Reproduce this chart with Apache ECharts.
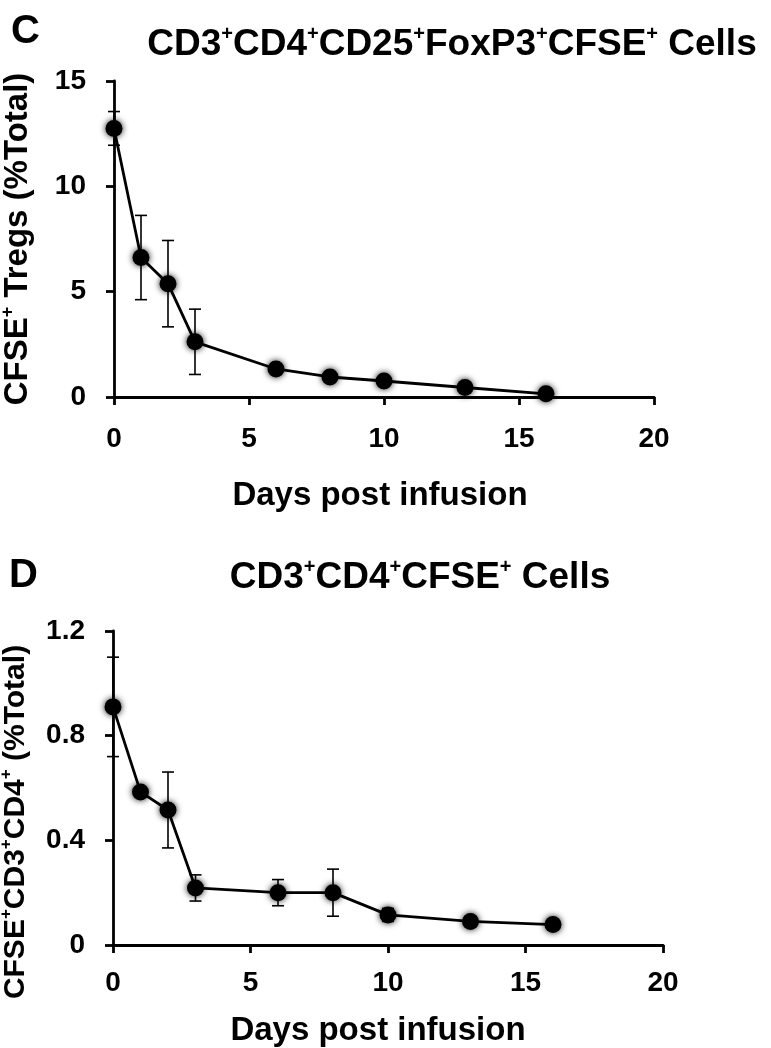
<!DOCTYPE html>
<html>
<head>
<meta charset="utf-8">
<script src="https://cdn.jsdelivr.net/npm/echarts@6/dist/echarts.min.js"></script>
<style>
html,body{margin:0;padding:0;background:#fff;}
#c{width:771px;height:1048px;}
</style>
</head>
<body>
<div id="c"></div>
<script>
// ---- data ----
var days = [0, 1, 2, 3, 6, 8, 10, 13, 16];
var tregMean = [12.75, 6.62, 5.38, 2.62, 1.33, 0.95, 0.76, 0.45, 0.15];
var tregErr  = [0.8, 2.0, 2.05, 1.55, 0.25, 0.2, 0.15, 0.15, 0.1];
var cd4Mean = [0.91, 0.585, 0.516, 0.218, 0.2, 0.2, 0.115, 0.09, 0.078];
var cd4Err  = [0.19, 0.0, 0.145, 0.05, 0.05, 0.09, 0.025, 0.012, 0.01];
var xTicks = [0, 5, 10, 15, 20];
var tregTicks = [0, 5, 10, 15];
var cd4Ticks = [0, 0.4, 0.8, 1.2];

var FONT = '"Liberation Sans", Arial, Helvetica, sans-serif';
var chart = echarts.init(document.getElementById('c'));

function pairs(xs, ys, es) {
  return xs.map(function (x, i) { return es ? [x, ys[i], es[i]] : [x, ys[i]]; });
}

function errRender(params, api) {
  var x = api.value(0), m = api.value(1), e = api.value(2);
  if (!e) return null;
  var t = api.coord([x, m + e]);
  var b = api.coord([x, m - e]);
  var w = 6;
  var st = { stroke: '#000', lineWidth: 1.6 };
  return {
    type: 'group',
    children: [
      { type: 'line', shape: { x1: t[0], y1: t[1], x2: b[0], y2: b[1] }, style: st },
      { type: 'line', shape: { x1: t[0] - w, y1: t[1], x2: t[0] + w, y2: t[1] }, style: st },
      { type: 'line', shape: { x1: b[0] - w, y1: b[1], x2: b[0] + w, y2: b[1] }, style: st }
    ]
  };
}

function supRich(size) {
  return {
    n: { fontFamily: FONT, fontWeight: 'bold', fontSize: size, color: '#000', lineHeight: size + 5 },
    s: { fontFamily: FONT, fontWeight: 'bold', fontSize: Math.round(size * 0.55), color: '#000', verticalAlign: 'top', lineHeight: size + 5 }
  };
}
var titleRich = supRich(37);

function xAxisCfg(gi, margin, gap, pad) {
  return {
    type: 'value', gridIndex: gi, min: 0, max: 20, interval: 5,
    axisLine: { show: true, lineStyle: { color: '#000', width: 2.8 } },
    axisTick: { show: true, length: 8, lineStyle: { color: '#000', width: 2.8 } },
    axisLabel: { color: '#000', fontFamily: FONT, fontWeight: 'bold', fontSize: 28, margin: margin,
      customValues: xTicks },
    splitLine: { show: false },
    name: 'Days post infusion', nameLocation: 'middle', nameGap: gap,
    nameTextStyle: { color: '#000', fontFamily: FONT, fontWeight: 'bold', fontSize: 33, padding: pad }
  };
}
function yAxisCfg(gi, max, interval, ticks, name, gap, size, pad) {
  return {
    type: 'value', gridIndex: gi, min: 0, max: max, interval: interval,
    axisLine: { show: true, lineStyle: { color: '#000', width: 2.8 } },
    axisTick: { show: true, length: 8, lineStyle: { color: '#000', width: 2.8 } },
    axisLabel: { color: '#000', fontFamily: FONT, fontWeight: 'bold', fontSize: 28, margin: 28,
      customValues: ticks },
    splitLine: { show: false },
    name: name, nameLocation: 'middle', nameGap: gap,
    nameTextStyle: { rich: supRich(size), fontFamily: FONT, fontWeight: 'bold', fontSize: size, color: '#000', padding: pad }
  };
}

var markerStyle = { color: '#000', shadowBlur: 6, shadowColor: 'rgba(0,0,0,0.9)' };

chart.setOption({
  animation: false,
  backgroundColor: '#fff',
  grid: [
    { left: 114, right: 117, top: 81, bottom: 651, outerBoundsMode: 'none', containLabel: false },
    { left: 113, right: 108, top: 631, bottom: 103, outerBoundsMode: 'none', containLabel: false }
  ],
  xAxis: [xAxisCfg(0, 28, 82, [0, 8, 0, 0]), xAxisCfg(1, 24, 69, [0, 20, 0, 0])],
  yAxis: [
    yAxisCfg(0, 15, 5, tregTicks, '{n|CFSE}{s|+}{n| Tregs (%Total)}', 77, 33, [0, 0, 0, 0]),
    yAxisCfg(1, 1.2, 0.4, cd4Ticks, '{n|CFSE}{s|+}{n|CD3}{s|+}{n|CD4}{s|+}{n| (%Total)}', 80, 30, [0, 68, 0, 0])
  ],
  graphic: [
    { type: 'text', left: 11, top: 12, style: { text: 'C', fontFamily: FONT, fontWeight: 'bold', fontSize: 40, fill: '#000' } },
    { type: 'text', left: 9, top: 556, style: { text: 'D', fontFamily: FONT, fontWeight: 'bold', fontSize: 40, fill: '#000' } },
    { type: 'text', x: 452, y: 45, style: {
        text: '{n|CD3}{s|+}{n|CD4}{s|+}{n|CD25}{s|+}{n|FoxP3}{s|+}{n|CFSE}{s|+}{n| Cells}',
        rich: titleRich, align: 'center', verticalAlign: 'middle' } },
    { type: 'text', x: 420, y: 578, style: {
        text: '{n|CD3}{s|+}{n|CD4}{s|+}{n|CFSE}{s|+}{n| Cells}',
        rich: titleRich, align: 'center', verticalAlign: 'middle' } }
  ],
  series: [
    { type: 'custom', xAxisIndex: 0, yAxisIndex: 0, data: pairs(days, tregMean, tregErr), renderItem: errRender, z: 1 },
    { type: 'line', xAxisIndex: 0, yAxisIndex: 0, data: pairs(days, tregMean), symbol: 'circle', symbolSize: 17,
      lineStyle: { color: '#000', width: 2.8 }, itemStyle: markerStyle, z: 3 },
    { type: 'custom', xAxisIndex: 1, yAxisIndex: 1, data: pairs(days, cd4Mean, cd4Err), renderItem: errRender, z: 1 },
    { type: 'line', xAxisIndex: 1, yAxisIndex: 1, data: pairs(days, cd4Mean), symbol: 'circle', symbolSize: 17,
      lineStyle: { color: '#000', width: 2.8 }, itemStyle: markerStyle, z: 3 }
  ]
});
</script>
</body>
</html>
